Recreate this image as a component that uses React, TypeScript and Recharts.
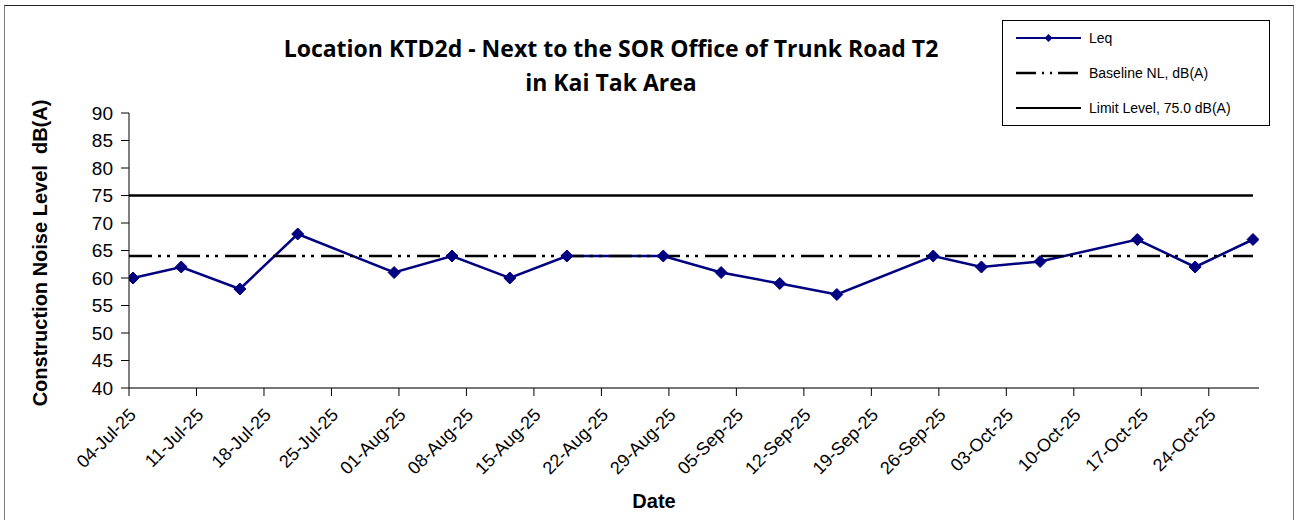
import React from "react";
import { ComposedChart, Line, XAxis, YAxis } from "recharts";

const measureDates = [
  "2025-07-04 10:00", "2025-07-09 10:00", "2025-07-15 12:00", "2025-07-21 12:00",
  "2025-07-31 12:00", "2025-08-06 12:00", "2025-08-12 12:00", "2025-08-18 10:00",
  "2025-08-28 10:00", "2025-09-03 10:00", "2025-09-09 12:00", "2025-09-15 10:00",
  "2025-09-25 10:00", "2025-09-30 10:00", "2025-10-06 12:00", "2025-10-16 14:00",
  "2025-10-22 14:00", "2025-10-28 14:00",
];
const leqValues = [60, 62, 58, 68, 61, 64, 60, 64, 64, 61, 59, 57, 64, 62, 63, 67, 62, 67];
const baselineLevel = 64;
const limitLevel = 75;
const tickDates = [
  "2025-07-04", "2025-07-11", "2025-07-18", "2025-07-25", "2025-08-01", "2025-08-08",
  "2025-08-15", "2025-08-22", "2025-08-29", "2025-09-05", "2025-09-12", "2025-09-19",
  "2025-09-26", "2025-10-03", "2025-10-10", "2025-10-17", "2025-10-24",
];
const axisStart = "2025-07-04 00:00";
const axisEnd = "2025-10-29 05:00";
const yTicks = [40, 45, 50, 55, 60, 65, 70, 75, 80, 85, 90];

const MONTHS = ["Jan", "Feb", "Mar", "Apr", "May", "Jun", "Jul", "Aug", "Sep", "Oct", "Nov", "Dec"];

function toMs(s: string) {
  const [d, t = "00:00"] = s.split(" ");
  const [y, m, dd] = d.split("-").map(Number);
  const [h, mi] = t.split(":").map(Number);
  return Date.UTC(y, m - 1, dd, h, mi);
}

function fmtDate(ms: number) {
  const d = new Date(ms);
  const dd = String(d.getUTCDate()).padStart(2, "0");
  return `${dd}-${MONTHS[d.getUTCMonth()]}-${String(d.getUTCFullYear()).slice(2)}`;
}

const leqData = measureDates.map((s, i) => ({ t: toMs(s), v: leqValues[i] }));
const lastT = leqData[leqData.length - 1].t;
const baselineData = [{ t: toMs(axisStart), v: baselineLevel }, { t: lastT, v: baselineLevel }];
const limitData = [{ t: toMs(axisStart), v: limitLevel }, { t: lastT, v: limitLevel }];
const xTicks = tickDates.map((s) => toMs(s));

const FONT = "'Liberation Sans', Arial, sans-serif";
const NAVY = "#000080";
const BASE_DASH = "23 6 3 6 3 7";

const Diamond = (props: any) => {
  const { cx, cy } = props;
  if (cx == null || cy == null) return null;
  const r = 6;
  return (
    <polygon
      points={`${cx},${cy - r} ${cx + r},${cy} ${cx},${cy + r} ${cx - r},${cy}`}
      fill={NAVY}
      stroke={NAVY}
    />
  );
};

const XTick = (props: any) => {
  const { x, y, payload } = props;
  const ax = x + 8;
  const ay = y + 18;
  return (
    <text
      x={ax}
      y={ay}
      textAnchor="end"
      transform={`rotate(-45, ${ax}, ${ay})`}
      fontSize={18}
      fontFamily={FONT}
      fill="#000"
    >
      {fmtDate(payload.value)}
    </text>
  );
};

// legend drawn by hand so it doesn't eat plot space
const LegendBox = () => (
  <div
    style={{
      position: "absolute",
      left: 1002,
      top: 20,
      width: 268,
      height: 106,
      border: "1px solid #000",
      background: "#fff",
      boxSizing: "border-box",
    }}
  >
    <svg width={266} height={104} style={{ display: "block" }}>
      <line x1={13} x2={78} y1={17} y2={17} stroke={NAVY} strokeWidth={2} />
      <polygon points="45.5,13 49.5,17 45.5,21 41.5,17" fill={NAVY} />
      <text x={86} y={22} fontSize={14} fontFamily={FONT}>Leq</text>
      <line x1={13} x2={78} y1={52} y2={52} stroke="#000" strokeWidth={2.5} strokeDasharray="20 6 2 6 2 6" />
      <text x={86} y={57} fontSize={14} fontFamily={FONT}>Baseline NL, dB(A)</text>
      <line x1={13} x2={78} y1={87} y2={87} stroke="#000" strokeWidth={2} />
      <text x={86} y={92} fontSize={14} fontFamily={FONT}>Limit Level, 75.0 dB(A)</text>
    </svg>
  </div>
);

export default function App() {
  return (
    <div style={{ position: "relative", width: 1298, height: 520, background: "#fff", overflow: "hidden" }}>
      <style>{"body{margin:0}"}</style>
      <div
        style={{
          position: "absolute",
          left: 4,
          top: 5,
          width: 1290,
          height: 530,
          border: "1px solid #777",
          borderTopColor: "#222",
          boxSizing: "border-box",
        }}
      />
      <ComposedChart
        width={1298}
        height={520}
        margin={{ top: 113, right: 39, bottom: 32, left: 69 }}
        style={{ position: "absolute", left: 0, top: 0 }}
      >
        <XAxis
          dataKey="t"
          type="number"
          scale="linear"
          domain={[toMs(axisStart), toMs(axisEnd)]}
          ticks={xTicks}
          interval={0}
          allowDataOverflow
          height={100}
          tickSize={8}
          tick={<XTick />}
          axisLine={{ stroke: "#777", strokeWidth: 2 }}
          tickLine={{ stroke: "#000" }}
        />
        <YAxis
          type="number"
          domain={[40, 90]}
          ticks={yTicks}
          interval={0}
          width={60}
          tickSize={8}
          tickMargin={8}
          tick={{ fontSize: 19, fontFamily: FONT, fill: "#000" }}
          axisLine={{ stroke: "#000" }}
          tickLine={{ stroke: "#000" }}
        />
        <Line
          data={limitData}
          dataKey="v"
          name="Limit Level, 75.0 dB(A)"
          stroke="#000"
          strokeWidth={2.5}
          dot={false}
          activeDot={false}
          isAnimationActive={false}
        />
        <Line
          data={leqData}
          dataKey="v"
          name="Leq"
          stroke={NAVY}
          strokeWidth={2.5}
          dot={<Diamond />}
          activeDot={false}
          isAnimationActive={false}
        />
        <Line
          data={baselineData}
          dataKey="v"
          name="Baseline NL, dB(A)"
          stroke="#000"
          strokeWidth={2.5}
          strokeDasharray={BASE_DASH}
          dot={false}
          activeDot={false}
          isAnimationActive={false}
        />
        <text
          x={40}
          y={253}
          transform="rotate(-90, 40, 253)"
          textAnchor="middle"
          dominantBaseline="central"
          fontSize={20}
          fontWeight={700}
          fontFamily={FONT}
          fill="#000"
          style={{ whiteSpace: "pre" }}
        >
          Construction Noise Level  dB(A)
        </text>
        <text x={654} y={508} textAnchor="middle" fontSize={20} fontWeight={700} fontFamily={FONT} fill="#000">
          Date
        </text>
        <text x={611} y={57} textAnchor="middle" fontSize={23} fontWeight={700} fontFamily="'Open Sans', sans-serif" fill="#000">
          Location KTD2d - Next to the SOR Office of Trunk Road T2
        </text>
        <text x={611} y={91} textAnchor="middle" fontSize={23} fontWeight={700} fontFamily="'Open Sans', sans-serif" fill="#000">
          in Kai Tak Area
        </text>
      </ComposedChart>
      <LegendBox />
    </div>
  );
}
